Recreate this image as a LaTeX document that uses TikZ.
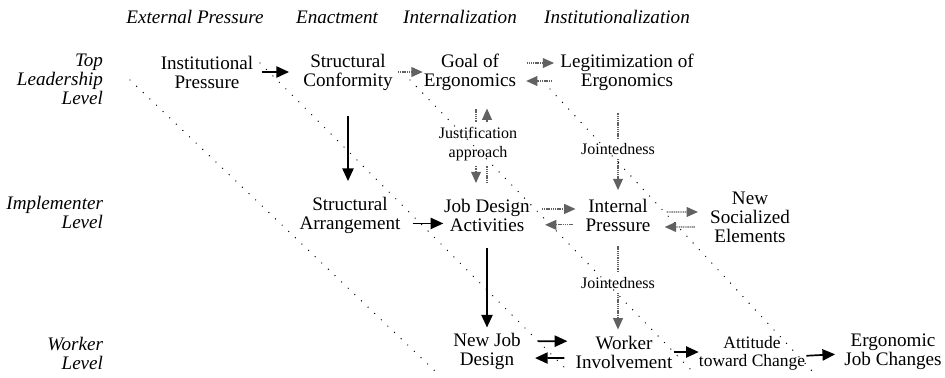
\documentclass[tikz,border=0pt]{standalone}
\usepackage{fontspec}
\setmainfont{Liberation Serif}
\usetikzlibrary{arrows.meta}

\newcommand{\bodysize}{\fontsize{13.6}{13.5}\selectfont}
\newcommand{\notesize}{\fontsize{11.4}{14}\selectfont}

\tikzset{%
  every box/.style={
    align=center,
    inner sep=0pt,
    font=\bodysize
  },
  box note/.style={
    align=center,
    inner sep=1.5pt,
    font=\notesize
  },
  every stage/.style={
    font=\bodysize\itshape
  },
  every level/.style={
    align=right,
    anchor=east,
    font=\bodysize\itshape
  },
  link/.style={line width=1.2pt},
  soft line/.style={
    draw=black!62,
    line width=0.8pt,
    dash pattern=on 0.8pt off 0.5pt
  },
  soft/.style={
    soft line,
    -{Triangle[length=8pt,width=7pt,fill=black!62]}
  },
  boundary/.style={
    line width=1pt,
    line cap=round,
    dash pattern=on 0pt off 6.5pt
  },
}

\begin{document}
\begin{tikzpicture}[x=0.025cm, y=-0.025cm, >={Triangle[length=9pt,width=8pt]}]
\useasboundingbox (0,0) rectangle (945,377);

\foreach \l/\x [count=\i] in {External Pressure/195, Enactment/337,
    Internalization/460, Institutionalization/617}
  \node [every stage] (stage-\i) at (\x,17) {\l};

\foreach \l/\y [count=\i] in {Top\\Leadership\\Level/79,
    Implementer\\Level/212, Worker\\Level/353}
  \node [every level] (level-\i) at (108,\y) {\l};

% top leadership level
\node [every box] (inst) at (207,72) {Institutional\\Pressure};
\node [every box] (conf) at (348,72) {Structural\\Conformity};
\node [every box] (goal) at (470,72) {Goal of\\Ergonomics};
\node [every box] (legit) at (627,72) {Legitimization of\\Ergonomics};

% implementer level
\node [every box] (arr) at (350,215) {Structural\\Arrangement};
\node [every box] (job) at (487,215) {Job Design\\Activities};
\node [every box] (intp) at (618,215) {Internal\\Pressure};
\node [every box] (soc) at (750,217) {New\\Socialized\\Elements};

% worker level
\node [every box] (newjob) at (487,351) {New Job\\Design};
\node [every box] (inv) at (624,352) {Worker\\Involvement};
\node [every box, font=\fontsize{12.4}{12.8}\selectfont] (att) at (752,353) {Attitude\\toward Change};
\node [every box] (ejc) at (893,352) {Ergonomic\\Job Changes};

% labels on the vertical links
\node [box note] (just) at (478,144) {Justification\\approach};
\node [box note] (joint-1) at (618,149) {Jointedness};
\node [box note] (joint-2) at (618,283) {Jointedness};

% stage boundaries
\foreach \xa/\ya/\xb/\yb in {130/80/436/372, 260/63/567/370,
    410/80/694/373, 550/89/814/373}
  \draw [boundary] (\xa,\ya) -- (\xb,\yb);

% top row
\draw [->, link, shorten <=6.4pt, shorten >=10pt] (inst) -- (conf);
\draw [soft, shorten <=3.6pt, shorten >=0.7pt] (conf) -- (goal);
\draw [soft, shorten <=7.8pt, shorten >=4.3pt] ([yshift=6.4pt]goal.east) -- ([yshift=6.4pt]legit.west);
\draw [soft, shorten <=5.7pt, shorten >=7pt] ([yshift=-6.4pt]legit.west) -- ([yshift=-6.4pt]goal.east);

% down to the implementer level
\draw [->, link, shorten <=17.8pt, shorten >=11pt] (conf.south) -- (conf.south |- arr.north);
\coordinate (down-x) at (476,0);
\coordinate (up-x) at (487,0);
\draw [soft line, shorten <=12.8pt, shorten >=1.5pt] (goal.south -| down-x) -- (just.north -| down-x);
\draw [soft, shorten <=1.5pt, shorten >=11pt] (just.south -| down-x) -- (job.north -| down-x);
\draw [soft line, shorten <=11pt, shorten >=1.5pt] (job.north -| up-x) -- (just.south -| up-x);
\draw [soft, shorten <=1.5pt, shorten >=12.8pt] (just.north -| up-x) -- (goal.south -| up-x);
\draw [soft line, shorten <=15.6pt, shorten >=1.5pt] (joint-1.north |- legit.south) -- (joint-1.north);
\draw [soft, shorten <=1.5pt, shorten >=6pt] (joint-1.south) -- (joint-1.south |- intp.north);

% implementer row
\draw [->, link, shorten <=8.5pt, shorten >=0.5pt] ([yshift=-6pt]arr.east) -- ([yshift=-6pt]job.west);
\draw [soft, shorten <=8.5pt, shorten >=7pt] ([yshift=4.3pt]job.east) -- ([yshift=4.3pt]intp.west);
\draw [soft, shorten <=8.5pt, shorten >=10.7pt] ([yshift=-7pt]intp.west) -- ([yshift=-7pt]job.east);
\draw [soft, shorten <=11.4pt, shorten >=8.5pt] ([yshift=2.1pt]intp.east) -- ([yshift=3.6pt]soc.west);
\draw [soft, shorten <=10.7pt, shorten >=10pt] ([yshift=-7.1pt]soc.west) -- ([yshift=-8.5pt]intp.east);

% down to the worker level
\draw [->, link, shorten <=12pt, shorten >=3.6pt] (job.south) -- (job.south |- newjob.north);
\draw [soft line, shorten <=10pt, shorten >=1.5pt] (joint-2.north |- intp.south) -- (joint-2.north);
\draw [soft, shorten <=1.5pt, shorten >=4.3pt] (joint-2.south) -- (joint-2.south |- inv.north);

% worker row
\draw [->, link, shorten <=12pt, shorten >=5.7pt] ([yshift=7pt]newjob.east) -- ([yshift=7.7pt]inv.west);
\draw [->, link, shorten <=7.8pt, shorten >=10pt] ([yshift=-4.3pt]inv.west) -- ([yshift=-5pt]newjob.east);
\draw [->, link, shorten <=0.7pt] (inv.east) -- (inv.east -| att.west);
\draw [->, link, shorten <=0.7pt, shorten >=6.4pt] ([yshift=-2pt]att.east) -- ([yshift=-1.3pt]ejc.west);

\end{tikzpicture}
\end{document}
